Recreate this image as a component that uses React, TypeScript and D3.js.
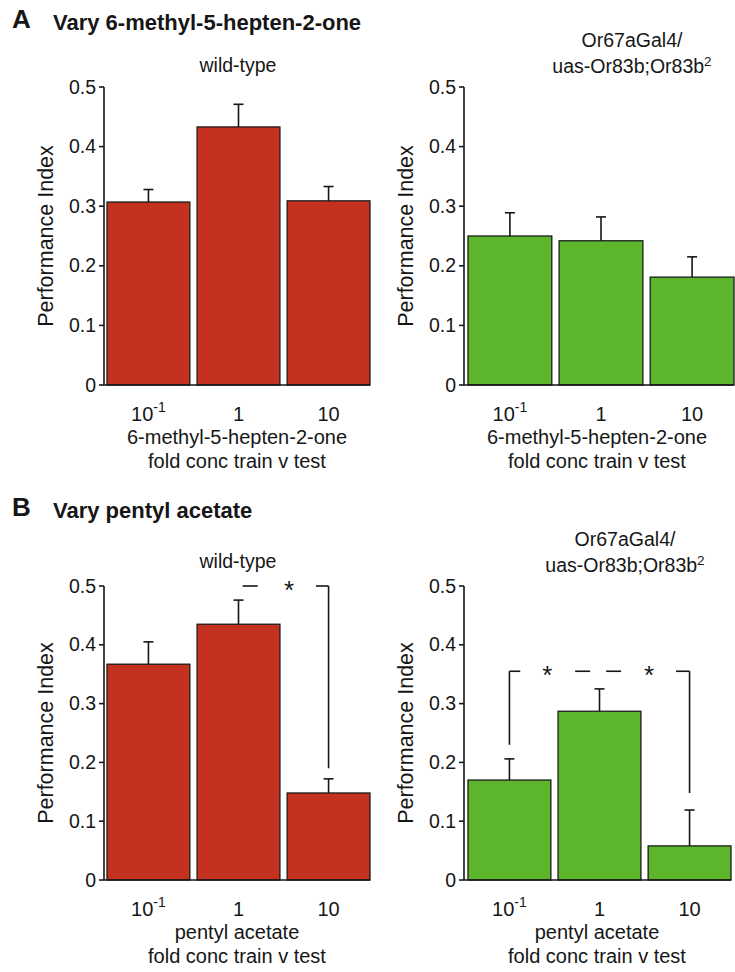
import React from "react";
import * as d3 from "d3";

// concentration categories (fold conc train v test)
const concLabels = ["10^-1", "1", "10"];
const yTicks = [0, 0.1, 0.2, 0.3, 0.4, 0.5];

// A: vary 6-methyl-5-hepten-2-one
const aWildMean = [0.307, 0.433, 0.309];
const aWildErr = [0.021, 0.038, 0.024];
const aMutMean = [0.25, 0.242, 0.181];
const aMutErr = [0.039, 0.04, 0.034];

// B: vary pentyl acetate
const bWildMean = [0.367, 0.435, 0.148];
const bWildErr = [0.038, 0.041, 0.024];
const bMutMean = [0.17, 0.287, 0.058];
const bMutErr = [0.036, 0.038, 0.061];

// significance brackets: from bar i to bar j at level, drop ends, star positions (fractional index)
const bWildSig = { from: 1, to: 2, level: 0.5, dropFrom: null, dropTo: 0.19, stars: [1.56] };
const bMutSig = { from: 0, to: 2, level: 0.355, dropFrom: 0.23, dropTo: 0.148, stars: [0.42, 1.55] };

const RED = "#c4311f";
const GREEN = "#5db52c";
const INK = "#161616";
const FONT = "'Liberation Sans', Arial, Helvetica, sans-serif";

type Sig = { from: number; to: number; level: number; dropFrom: number | null; dropTo: number | null; stars: number[] };

function Panel({
	axisX, x0, x1, zeroY, topY, mean, err, color, title, xTitle, titleX, titleY, sig,
}: {
	axisX: number; x0: number; x1: number; zeroY: number; topY: number;
	mean: number[]; err: number[]; color: string; title: (string | string[])[]; xTitle: string;
	titleX: number; titleY: number; sig?: Sig;
}) {
	const x = d3.scaleBand().domain(concLabels).range([x0, x1]).paddingInner(0.08).paddingOuter(0);
	const y = d3.scaleLinear().domain([0, 0.5]).range([zeroY, topY]);
	const cx = (i: number) => (x(concLabels[i]) as number) + x.bandwidth() / 2;
	const cxf = (f: number) => {
		const i = Math.floor(f);
		const t = f - i;
		if (i >= concLabels.length - 1) return cx(concLabels.length - 1);
		return cx(i) * (1 - t) + cx(i + 1) * t;
	};

	const sigEls: JSX.Element[] = [];
	if (sig) {
		const xa = cx(sig.from);
		const xb = cx(sig.to);
		const ly = y(sig.level);
		const g = 27;
		const starXs = sig.stars.map(cxf);
		// pieces between stars
		const bounds = [xa, ...starXs.flatMap((s) => [s - g, s + g]), xb];
		for (let k = 0; k < bounds.length; k += 2) {
			const a = bounds[k];
			const b = bounds[k + 1];
			const isFirst = k === 0;
			const isLast = k === bounds.length - 2;
			if (isFirst && sig.dropFrom !== null) {
				sigEls.push(<line key={"s" + k} x1={a} x2={Math.min(b, a + 14)} y1={ly} y2={ly} />);
			} else if (isLast && sig.dropTo !== null) {
				sigEls.push(<line key={"s" + k} x1={Math.max(a, b - 14)} x2={b} y1={ly} y2={ly} />);
			} else {
				const len = b - a;
				const n = Math.max(1, Math.round((len + 16) / 31));
				const total = n * 15 + (n - 1) * 16;
				const st = a + (len - total) / 2;
				for (let m = 0; m < n; m++) {
					sigEls.push(<line key={"s" + k + "_" + m} x1={st + m * 31} x2={st + m * 31 + 15} y1={ly} y2={ly} />);
				}
			}
		}
		if (sig.dropFrom !== null) sigEls.push(<line key="df" x1={xa} x2={xa} y1={ly} y2={y(sig.dropFrom)} />);
		if (sig.dropTo !== null) sigEls.push(<line key="dt" x1={xb} x2={xb} y1={ly} y2={y(sig.dropTo)} />);
		starXs.forEach((s, i) =>
			sigEls.push(
				<text key={"st" + i} x={s} y={ly + 13} textAnchor="middle" fontSize={26} fill={INK} stroke="none">
					*
				</text>
			)
		);
	}

	return (
		<g fontFamily={FONT} fill={INK}>
			{/* bars */}
			{mean.map((v, i) => (
				<rect
					key={i}
					x={x(concLabels[i])}
					y={y(v)}
					width={x.bandwidth()}
					height={y(0) - y(v)}
					fill={color}
					stroke="#1c1c1c"
					strokeWidth={1.3}
				/>
			))}
			{/* error bars */}
			{mean.map((v, i) => (
				<g key={"e" + i} stroke={INK} strokeWidth={1.6}>
					<line x1={cx(i)} x2={cx(i)} y1={y(v)} y2={y(v + err[i])} />
					<line x1={cx(i) - 5} x2={cx(i) + 5} y1={y(v + err[i])} y2={y(v + err[i])} />
				</g>
			))}
			{/* y axis */}
			<line x1={axisX} x2={axisX} y1={y(0)} y2={y(0.5)} stroke={INK} strokeWidth={1.6} />
			<line x1={axisX} x2={x1} y1={y(0)} y2={y(0)} stroke={INK} strokeWidth={1.6} />
			{yTicks.map((t) => (
				<g key={t}>
					<line x1={axisX - 5} x2={axisX} y1={y(t)} y2={y(t)} stroke={INK} strokeWidth={1.6} />
					<text x={axisX - 8} y={y(t) + 6.5} textAnchor="end" fontSize={19.5}>
						{t === 0 ? "0" : d3.format(".1f")(t)}
					</text>
				</g>
			))}
			<text
				transform={`translate(${axisX - 51},${(y(0) + y(0.5)) / 2}) rotate(-90)`}
				textAnchor="middle"
				fontSize={21.5}
			>
				Performance Index
			</text>
			{/* x tick labels */}
			{concLabels.map((c) => (
				<text key={c} x={(x(c) as number) + x.bandwidth() / 2} y={y(0) + 36} textAnchor="middle" fontSize={20}>
					{c.includes("^") ? (
						<>
							{c.split("^")[0]}
							<tspan dy={-9} fontSize={14}>{c.split("^")[1]}</tspan>
						</>
					) : (
						c
					)}
				</text>
			))}
			<text x={axisX + 133} y={y(0) + 59} textAnchor="middle" fontSize={20}>{xTitle}</text>
			<text x={axisX + 133} y={y(0) + 83} textAnchor="middle" fontSize={20}>fold conc train v test</text>
			{/* panel title */}
			{title.map((line, i) => (
				<text key={i} x={titleX} y={titleY + i * 26} textAnchor="middle" fontSize={19.5}>
					{Array.isArray(line) ? (
						<>
							{line[0]}
							<tspan dy={-7} fontSize={13.5}>{line[1]}</tspan>
						</>
					) : (
						line
					)}
				</text>
			))}
			<g stroke={INK} strokeWidth={1.6}>{sigEls}</g>
		</g>
	);
}

export default function App() {
	const mutTitle: (string | string[])[] = ["Or67aGal4/", ["uas-Or83b;Or83b", "2"]];
	return (
		<div style={{ position: "absolute", left: 0, top: 0 }}>
			<svg width={735} height={972} style={{ display: "block", background: "#fff" }}>
				<g fontFamily={FONT} fill={INK} fontWeight="bold">
					<text x={12} y={28} fontSize={26}>A</text>
					<text x={53} y={30} fontSize={22}>Vary 6-methyl-5-hepten-2-one</text>
					<text x={12} y={516} fontSize={26}>B</text>
					<text x={53} y={518} fontSize={22}>Vary pentyl acetate</text>
				</g>
				<Panel axisX={104} x0={107} x1={370} zeroY={385} topY={87} mean={aWildMean} err={aWildErr}
					color={RED} title={["wild-type"]} xTitle="6-methyl-5-hepten-2-one" titleX={238} titleY={72} />
				<Panel axisX={464} x0={468} x1={734} zeroY={385} topY={87} mean={aMutMean} err={aMutErr}
					color={GREEN} title={mutTitle} xTitle="6-methyl-5-hepten-2-one" titleX={632} titleY={47} />
				<Panel axisX={104} x0={107} x1={370} zeroY={880} topY={586} mean={bWildMean} err={bWildErr}
					color={RED} title={["wild-type"]} xTitle="pentyl acetate" titleX={238} titleY={568} sig={bWildSig} />
				<Panel axisX={464} x0={468} x1={731} zeroY={880} topY={586} mean={bMutMean} err={bMutErr}
					color={GREEN} title={mutTitle} xTitle="pentyl acetate" titleX={625} titleY={546} sig={bMutSig} />
			</svg>
		</div>
	);
}
